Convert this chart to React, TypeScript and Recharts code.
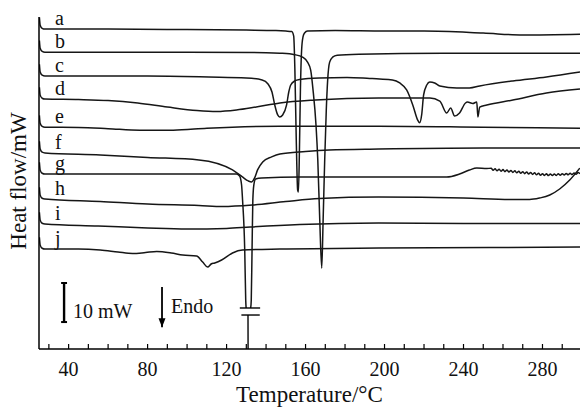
import React from "react";
import { LineChart, Line, XAxis, YAxis, ReferenceLine, ReferenceDot, Label } from "recharts";

const FONT = '"Liberation Serif", "Times New Roman", serif';
const INK = "#161616";

// sample names and the vertical offset (mW) each trace is stacked at
const names = ["a", "b", "c", "d", "e", "f", "g", "h", "i", "j"];
const offsets = [81.9, 76.0, 69.9, 64.0, 56.8, 50.2, 44.8, 38.4, 32.0, 25.6];

// start-up transient shared by every run
const hookT = [25.2, 25.6, 26.6];
const hookD = [3.0, 1.0, 0.2];

const xTicks = [30, 40, 50, 60, 70, 80, 90, 100, 110, 120, 130, 140, 150, 160, 170, 180, 190, 200, 210, 220, 230, 240, 250, 260, 270, 280, 290];
const xLabels = [40, 80, 120, 160, 200, 240, 280];

// temperatures (°C) and heat flow relative to the stacked baseline (mW)
const aT = [28, 60, 100, 130, 145, 150, 153, 154, 154.6, 155.3, 156, 156.4, 156.9, 157.4, 158, 158.7, 159.5, 161, 175, 200, 220, 250, 270, 299];
const aD = [0, 0, -0.13, -0.26, -0.38, -0.51, -0.64, -1.8, -10.5, -28.4, -41.2, -41.7, -31.0, -15.6, -5.4, -2.0, -1.0, -0.51, -0.38, -0.51, -0.51, -1.02, -1.5, -1.3];

const bT = [28, 100, 140, 147, 154.5, 158.5, 161, 162.6, 163.8, 165.3, 166.2, 167.2, 168.2, 168.9, 169.7, 170.5, 171.2, 172.2, 173.7, 176, 187, 230, 299];
const bD = [0, 0, -0.13, -0.26, -0.64, -1.28, -2.56, -4.61, -9.73, -18.7, -27.6, -43.0, -55.3, -43.0, -27.6, -14.8, -7.17, -2.56, -1.28, -0.77, -0.51, -0.26, -0.26];

const cT = [28, 80, 111, 130, 138, 141, 143, 144.4, 145.9, 146.9, 148.4, 150.4, 151.5, 152.5, 154.5, 157, 167, 181, 192.5, 197.5, 204, 207.7, 211.2, 214.3, 216.8, 217.8, 218.8, 219.8, 221.4, 222.9, 225.4, 228, 236.6, 243, 248.2, 265, 282, 299];
const cD = [0, 0, -0.26, -0.51, -1.02, -2.05, -4.1, -7.42, -9.98, -10.5, -9.98, -7.42, -4.1, -2.3, -1.28, -0.9, -0.51, -0.38, -0.64, -0.77, -1.02, -1.79, -3.58, -7.42, -11.3, -12.0, -9.98, -4.86, -2.3, -1.54, -1.79, -2.56, -3.07, -3.07, -2.56, -1.28, -0.26, 1.02];

const dT = [28, 45, 60, 75, 90, 105, 115, 125, 135, 147, 165, 197, 223, 228, 231.5, 233.5, 235.5, 238, 241, 242, 244.7, 246.7, 247.3, 248.2, 251.8, 265, 282, 299];
const dD = [0, -0.13, -0.38, -1.02, -2.05, -2.94, -3.2, -2.82, -2.05, -1.02, -0.26, 0.26, 0.26, -0.51, -3.58, -2.3, -4.35, -3.58, -1.02, -0.77, -1.15, -0.77, -4.61, -2.05, -1.54, -0.26, 1.54, 2.56];

const eT = [28, 45, 60, 76, 93, 110, 147, 197, 250, 299];
const eD = [0, -0.08, -0.38, -0.77, -0.77, -0.26, 0.26, 0.26, 0, -0.26];

const fT = [28, 56, 80, 106, 123, 128, 131, 132.7, 134.2, 135.7, 138.3, 142.8, 147, 160, 172, 197, 250, 299];
const fD = [0, -0.51, -1.15, -1.79, -4.35, -6.14, -7.17, -7.42, -6.4, -4.35, -2.3, -1.02, -0.26, 0.38, 0.77, 1.02, 1.28, 1.28];

// g: off-scale melting peak drawn with a break (null = gap)
const gT = [28, 80, 110, 125, 126.6, 127.6, 128.1, 129.2, 129.7, 129.9, 130.3, 130.85, 130.9, 131.5, 132.2, 132.5, 132.9, 133.3, 133.8, 134.7, 137.8, 157, 197.5, 219, 231.5, 238, 243, 246.7, 251.8,
  254, 255, 256, 257, 258, 259, 260, 261, 262, 263, 264, 265, 266, 267, 268, 269, 270, 271, 272, 273, 274, 275, 276, 277, 278, 279, 280, 281, 282, 283, 284, 285, 286, 287, 288, 289, 290, 291, 292, 293, 294, 295, 296, 297, 298, 299];
const gD = [0, 0, 0, 0, -0.51, -2.82, -6.66, -19.5, -32.3, -34.3, null, -36.1, -44.8, null, -34.3, -32.3, -19.5, -6.66, -2.82, -1.28, -1.02, -0.77, -0.77, -0.77, -0.77, 0, 1.02, 1.54, 1.41,
  1.48, 0.97, 1.33, 0.82, 1.23, 0.72, 1.13, 0.61, 1.02, 0.51, 0.92, 0.41, 0.82, 0.31, 0.72, 0.2, 0.61, 0.1, 0.51, 0, 0.41, -0.1, 0.31, -0.2, 0.2, -0.31, 0.1, -0.36, 0.05, -0.41, 0, -0.41, 0, -0.36, 0.05, -0.31, 0.1, -0.26, 0.15, -0.2, 0.2, -0.15, 0.26, -0.05, 0.36, 0.1];

const hT = [28, 56, 80, 106, 118, 133, 150, 167, 197, 240, 265, 273.5, 278.6, 283.7, 288.7, 293.8, 298.9];
const hD = [0, -0.64, -1.28, -1.66, -1.92, -1.54, -0.64, 0.13, 0.51, 0.26, -0.13, -0.13, 0.26, 1.02, 2.56, 4.86, 7.9];

const iT = [28, 55, 80, 100, 120, 132, 157, 197, 240, 299];
const iD = [0, -0.51, -1.02, -1.28, -1.15, -0.77, -0.13, 0.26, 0.13, 0.13];

const jT = [28, 45, 56, 65, 72.4, 79, 84.6, 92, 97.8, 104.8, 107.9, 110.4, 112.2, 114, 117.5, 123, 128, 147, 197, 253, 299];
const jD = [0, 0, -0.26, -0.77, -1.15, -0.9, -0.64, -1.02, -1.54, -1.79, -3.33, -4.61, -3.84, -3.58, -2.82, -1.02, -0.26, 0, 0.26, 0.38, 0.51];

const runs = [
  [aT, aD], [bT, bD], [cT, cD], [dT, dD], [eT, eD],
  [fT, fD], [gT, gD], [hT, hD], [iT, iD], [jT, jD],
] as [number[], (number | null)[]][];

const build = (ts: number[], ds: (number | null)[], off: number) => [
  ...hookT.map((t, k) => ({ t, v: off + hookD[k] })),
  ...ts.map((t, k) => ({ t, v: ds[k] == null ? null : off + (ds[k] as number) })),
];

const series = runs.map(([ts, ds], k) => build(ts, ds, offsets[k]));

const XTick = (props: any) => {
  const { x, y, payload } = props;
  const show = xLabels.includes(payload.value);
  return (
    <g>
      <line x1={x} x2={x} y1={y} y2={y - 5} stroke="#000" strokeWidth={1.2} />
      {show && (
        <text x={x} y={y + 27} textAnchor="middle" fontSize={20} fontFamily={FONT} fill="#111">
          {payload.value}
        </text>
      )}
    </g>
  );
};

const Letter = (props: any) => {
  const vb = props.viewBox;
  return (
    <text x={vb.x + 10} y={vb.y - 4} fontSize={20} fontFamily={FONT} fill="#111">
      {props.value}
    </text>
  );
};

const XTitle = (props: any) => {
  const vb = props.viewBox;
  return (
    <text x={vb.x + vb.width / 2} y={vb.y + 53} textAnchor="middle" fontSize={23} fontFamily={FONT} fill="#111">
      Temperature/°C
    </text>
  );
};

const YTitle = (props: any) => {
  const vb = props.viewBox;
  const cx = 26;
  const cy = vb.y + vb.height / 2 - 2;
  return (
    <text x={cx} y={cy} transform={`rotate(-90, ${cx}, ${cy})`} textAnchor="middle" fontSize={23} fontFamily={FONT} fill="#111">
      Heat flow/mW
    </text>
  );
};

const ScaleText = (props: any) => {
  const vb = props.viewBox;
  return (
    <text x={vb.x + 9} y={vb.y + vb.height - 4} fontSize={20} fontFamily={FONT} fill="#111">
      10 mW
    </text>
  );
};

const EndoMark = (props: any) => {
  const vb = props.viewBox;
  const bx = vb.x;
  const by = vb.y + vb.height;
  return (
    <g>
      <path d={`M${bx - 3.5},${by - 9} L${bx + 3.5},${by - 9} L${bx},${by} Z`} fill="#000" />
      <text x={bx + 9} y={vb.y + 26} fontSize={20} fontFamily={FONT} fill="#111">
        Endo
      </text>
    </g>
  );
};

export default function App() {
  return (
    <div style={{ position: "absolute", left: 0, top: 0, width: 580, height: 408, background: "#fff" }}>
      <LineChart width={580} height={408} margin={{ top: 17, right: 0, bottom: 0, left: 0 }}>
        <XAxis
          type="number"
          dataKey="t"
          domain={[25, 299]}
          ticks={xTicks}
          interval={0}
          tick={<XTick />}
          tickLine={false}
          tickSize={0}
          tickMargin={0}
          height={59}
          axisLine={{ stroke: "#000", strokeWidth: 1.5 }}
          allowDataOverflow
        >
          <Label content={<XTitle />} />
        </XAxis>
        <YAxis
          type="number"
          domain={[0, 85]}
          width={39}
          tick={false}
          tickLine={false}
          axisLine={{ stroke: "#000", strokeWidth: 1.5 }}
          allowDataOverflow
        >
          <Label content={<YTitle />} />
        </YAxis>

        {series.map((d, k) => (
          <Line
            key={names[k]}
            data={d}
            dataKey="v"
            type="monotone"
            stroke={INK}
            strokeWidth={1.5}
            dot={false}
            activeDot={false}
            connectNulls={false}
            isAnimationActive={false}
          />
        ))}

        {/* trace letters, anchored at the start of each baseline */}
        {names.map((n, k) => (
          <ReferenceDot
            key={`l-${n}`}
            x={28}
            y={offsets[k]}
            r={0}
            fill="none"
            stroke="none"
            label={<Letter value={n} />}
          />
        ))}

        {/* break marks on the off-scale peak of g */}
        <ReferenceLine segment={[{ x: 126.7, y: 10.5 }, { x: 137.0, y: 10.5 }]} stroke="#000" strokeWidth={1.4} />
        <ReferenceLine segment={[{ x: 127.5, y: 8.7 }, { x: 136.8, y: 8.7 }]} stroke="#000" strokeWidth={1.4} />

        {/* 10 mW scale bar */}
        <ReferenceLine
          segment={[{ x: 37.7, y: 6.9 }, { x: 37.7, y: 16.9 }]}
          stroke="#000"
          strokeWidth={2.4}
          label={<ScaleText />}
        />
        <ReferenceLine segment={[{ x: 36.2, y: 16.9 }, { x: 39.2, y: 16.9 }]} stroke="#000" strokeWidth={2} />
        <ReferenceLine segment={[{ x: 36.2, y: 6.9 }, { x: 39.2, y: 6.9 }]} stroke="#000" strokeWidth={2} />

        {/* Endo arrow */}
        <ReferenceLine
          segment={[{ x: 87.3, y: 5.6 }, { x: 87.3, y: 15.9 }]}
          stroke="#000"
          strokeWidth={1.8}
          label={<EndoMark />}
        />
      </LineChart>
    </div>
  );
}
